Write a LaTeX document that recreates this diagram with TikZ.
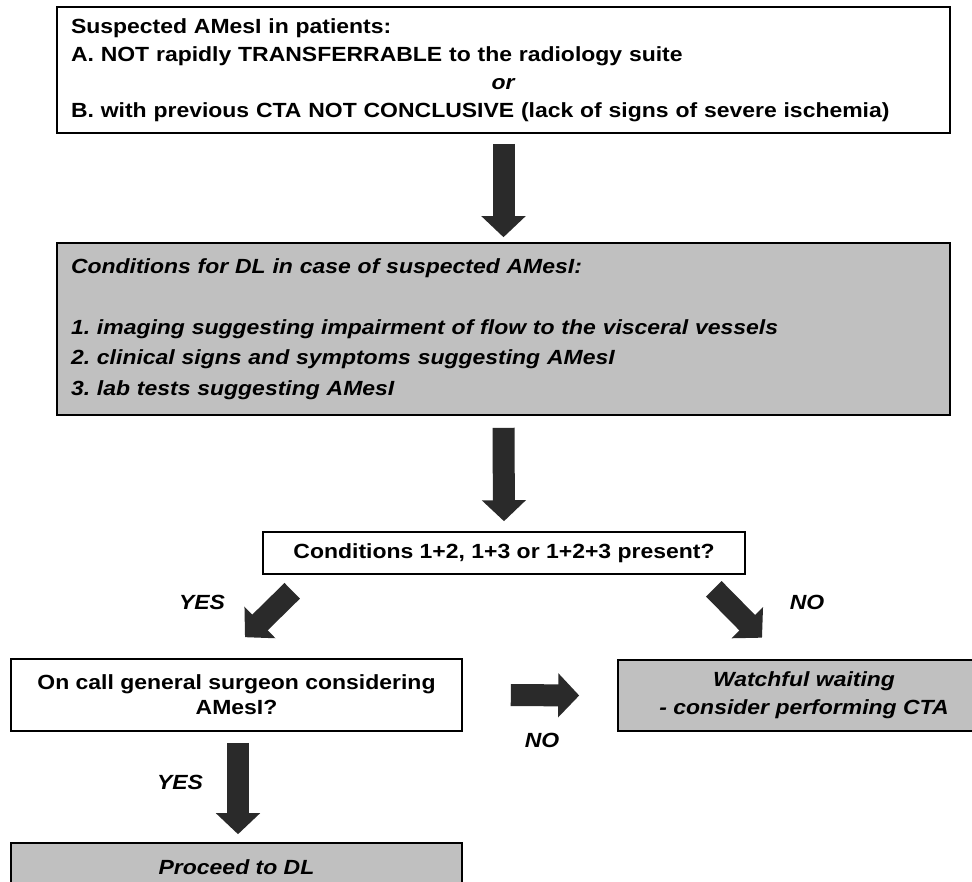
\documentclass[tikz,border=0pt]{standalone}
\usepackage{fontspec}
\setmainfont{Liberation Sans}[FakeStretch=1.12]
\usetikzlibrary{arrows.meta}
\definecolor{boxgray}{RGB}{192,192,192}
\definecolor{arrowdark}{RGB}{42,42,42}
\frenchspacing
\begin{document}
\begin{tikzpicture}[x=1pt,y=-1pt,
  box/.style={draw=black,line width=1.6pt,fill=white,inner sep=0pt,font=\fontsize{20.5}{28}\selectfont\bfseries},
  graybox/.style={box,fill=boxgray,font=\fontsize{20.5}{30.5}\selectfont\bfseries\itshape},
  fat/.style={draw=arrowdark,line width=22pt,-{Triangle[length=21pt,width=43pt]}},
  lbl/.style={font=\fontsize{20.5}{24}\selectfont\bfseries\itshape}]
\clip (0,0) rectangle (972,881);
\fill[white] (0,0) rectangle (972,881);
\node[box,minimum width=893pt,minimum height=126pt,text width=865pt,align=left] (susp) at (503.5,70)
  {Suspected AMesI in patients:\\A. NOT rapidly TRANSFERRABLE to the radiology suite\\\makebox[\linewidth]{\textit{or}}\\B. with previous CTA NOT CONCLUSIVE (lack of signs of severe ischemia)};
\node[graybox,minimum width=893pt,minimum height=172pt,text width=865pt,align=left] (crit) at (503.5,329)
  {Conditions for DL in case of suspected AMesI:\\[\baselineskip]1. imaging suggesting impairment of flow to the visceral vessels\\2. clinical signs and symptoms suggesting AMesI\\3. lab tests suggesting AMesI};
\node[box,minimum width=482pt,minimum height=42pt] (check) at (504,553) {Conditions 1+2, 1+3 or 1+2+3 present?};
\node[box,minimum width=451pt,minimum height=72pt,align=center,font=\fontsize{20.5}{25}\selectfont\bfseries] (surgeon) at (236.5,695)
  {On call general surgeon considering\\AMesI?};
\node[graybox,minimum width=372pt,minimum height=71pt,align=center,font=\fontsize{20.5}{28}\selectfont\bfseries\itshape] (waiting) at (804,695.5)
  {Watchful waiting\\- consider performing CTA};
\node[graybox,minimum width=451pt,minimum height=48pt] (proceed) at (236.5,867) {Proceed to DL};
\draw[fat] ([yshift=-10pt]susp.south) -- ([yshift=5pt]crit.north);
\draw[fat] ([yshift=-12pt]crit.south) -- ([yshift=10pt]check.north);
\draw[fat] ([xshift=30pt,yshift=-16pt]check.south west) -- ([xshift=8.5pt,yshift=21pt]surgeon.north);
\draw[fat] ([xshift=-32pt,yshift=-14pt]check.south east) -- ([xshift=-42pt,yshift=21.5pt]waiting.north);
\draw[fat] ([xshift=48pt]surgeon.east) -- ([xshift=-38pt]waiting.west);
\draw[fat] ([xshift=1.5pt,yshift=-11pt]surgeon.south) -- ([xshift=1.5pt,yshift=8pt]proceed.north);
\node[lbl] (yesleft) at (202,602) {YES};
\node[lbl] (noright) at (807,602) {NO};
\node[lbl] (nomid) at (542,740) {NO};
\node[lbl] (yesdown) at (180,782) {YES};
\end{tikzpicture}
\end{document}
